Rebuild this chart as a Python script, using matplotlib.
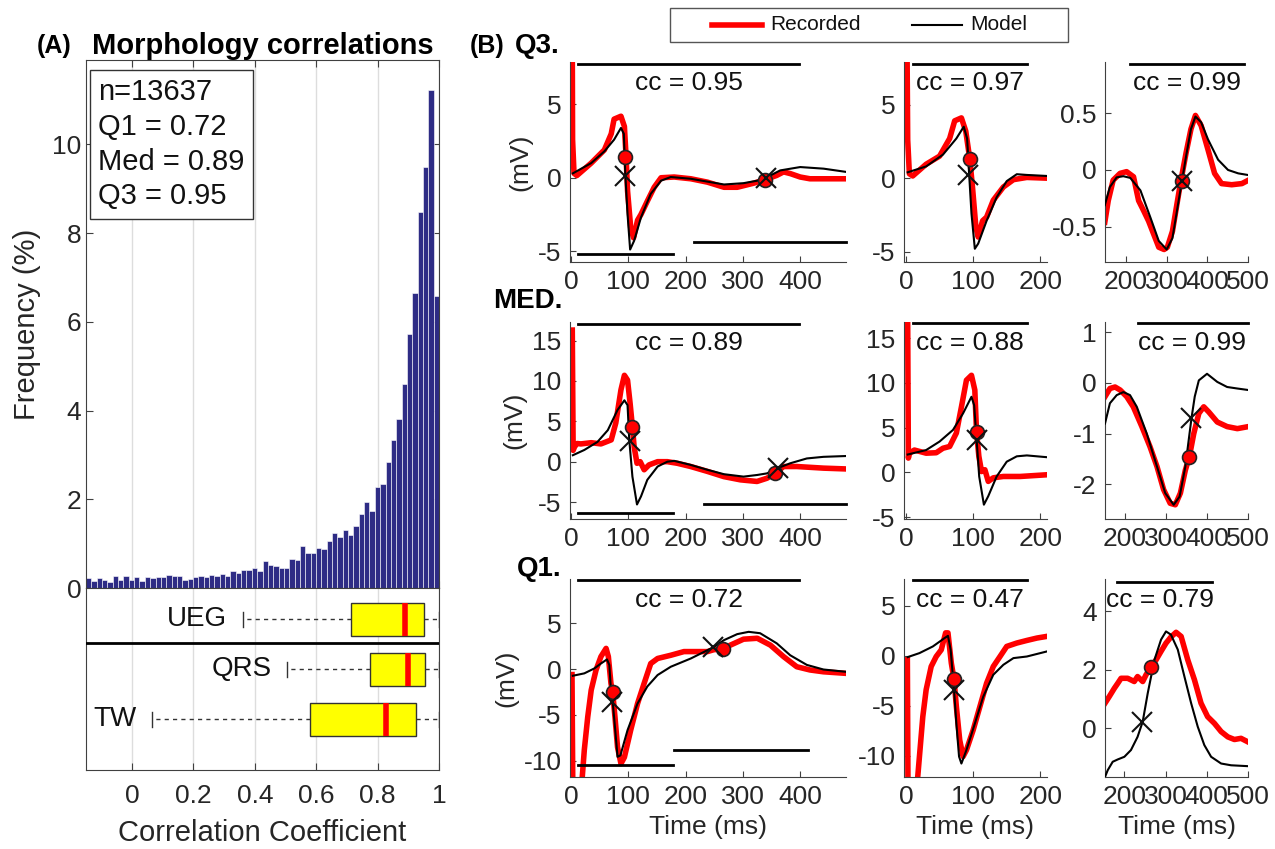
import numpy as np
import matplotlib.pyplot as plt
from matplotlib.lines import Line2D
from matplotlib.patches import Rectangle

plt.rcParams['font.family'] = ['Liberation Sans', 'DejaVu Sans']
plt.rcParams['axes.unicode_minus'] = False

W, H = 1275, 849

# ---------------- (A) histogram of correlation coefficients (% per bin)
hist_freq = [0.22, 0.15, 0.23, 0.17, 0.13, 0.28, 0.17, 0.26, 0.17, 0.24,
             0.15, 0.24, 0.23, 0.24, 0.24, 0.29, 0.26, 0.26, 0.18, 0.20,
             0.24, 0.28, 0.25, 0.30, 0.27, 0.32, 0.28, 0.38, 0.33, 0.40,
             0.40, 0.45, 0.38, 0.60, 0.52, 0.50, 0.45, 0.45, 0.65, 0.62,
             0.95, 0.80, 0.80, 0.90, 0.88, 1.05, 1.25, 1.15, 1.30, 1.20,
             1.40, 1.66, 1.94, 1.74, 2.28, 2.34, 2.84, 3.34, 3.82, 4.59,
             5.73, 6.64, 8.47, 9.48, 11.22, 6.58]
hist_range = (-0.15, 1.0)
stats_text = "n=13637\nQ1 = 0.72\nMed = 0.89\nQ3 = 0.95"

box_labels = ['UEG', 'QRS', 'TW']
box_whislo = [0.36, 0.506, 0.066]
box_q1 = [0.714, 0.774, 0.581]
box_med = [0.89, 0.90, 0.827]
box_q3 = [0.951, 0.954, 0.924]
box_whishi = [1.0, 1.0, 1.0]

# ---------------- (B) example traces: (time ms, mV)
q3_ueg_rec = ([2, 2.5, 5, 10, 35, 58, 70, 75, 87, 93, 96, 98.5, 104, 109, 116, 122, 133, 145, 157, 180, 209, 238, 267, 290, 319, 338, 359, 371, 383, 400, 417, 440, 480],
              [9, 2.6, 0.3, 0.15, 1.0, 1.9, 3.0, 4.0, 4.2, 3.5, 1.4, -0.9, -3.4, -4.1, -2.9, -2.5, -1.6, -0.65, 0, 0.05, -0.07, -0.3, -0.65, -0.65, -0.37, -0.14, 0.16, 0.4, 0.28, 0.05, -0.07, -0.07, -0.07])
q3_ueg_mod = ([3, 35, 58, 75, 87, 92, 94.5, 98.5, 103, 110, 122, 139, 157, 174, 209, 267, 301, 325, 340, 365, 400, 441, 480],
              [0.3, 1.0, 1.8, 2.6, 3.4, 3.0, 0.3, -2.5, -4.9, -4.3, -2.7, -1.1, -0.2, 0.05, -0.07, -0.46, -0.37, -0.2, 0, 0.5, 0.73, 0.62, 0.4])
q3_qrs_rec = ([1.5, 2.5, 5, 10, 30, 50, 65, 72.5, 82.5, 89, 95, 99, 104, 107.5, 114, 120, 130, 145, 160, 180, 210],
              [9, 2.6, 0.3, 0.15, 0.95, 1.5, 2.7, 3.9, 4.1, 3.2, 1.3, -0.6, -3.3, -4.0, -2.9, -2.65, -1.5, -0.6, -0.1, 0.05, 0])
q3_qrs_mod = ([2.5, 30, 55, 75, 86, 91, 94, 97.5, 102.5, 107.5, 120, 135, 150, 165, 180, 210],
              [0.4, 0.8, 1.6, 2.7, 3.5, 2.7, 0.3, -2.4, -4.8, -4.45, -2.9, -1.3, -0.2, 0.27, 0.22, 0.15])
q3_tw_rec = ([148.5, 157, 169, 186, 202, 219, 231.5, 244, 256, 269, 281, 294, 302, 314.5, 327, 335, 348, 360, 371, 385, 401.7, 418, 435, 460, 485, 501],
             [-0.46, -0.27, -0.09, -0.03, -0.015, -0.06, -0.27, -0.36, -0.45, -0.57, -0.68, -0.7, -0.68, -0.54, -0.27, -0.10, 0.15, 0.36, 0.48, 0.39, 0.18, -0.03, -0.12, -0.13, -0.12, -0.09])
q3_tw_mod = ([148.5, 161, 177.6, 194, 211, 236, 260.6, 281, 300.4, 314.5, 327, 337.8, 348, 360, 371, 385, 401.7, 426.6, 451, 476, 501],
             [-0.31, -0.15, -0.065, -0.055, -0.07, -0.18, -0.42, -0.625, -0.70, -0.6, -0.33, -0.1, 0.12, 0.36, 0.47, 0.42, 0.27, 0.09, 0, -0.03, -0.045])

med_ueg_rec = ([2, 3.5, 6, 10.4, 17, 35, 52, 70, 78, 87, 93, 98.5, 103, 107, 110, 115, 120.6, 127.5, 136, 151, 168, 185.5, 208.7, 237.7, 266.7, 295.6, 324.6, 342, 356.5, 371, 394, 440.6, 480],
               [16.3, 1.4, 1.85, 2.25, 2.2, 2.35, 2.2, 2.7, 4.8, 8.9, 10.7, 10.1, 7.2, 4.3, 1.85, -0.2, 0, -1.0, -0.4, 0, 0, -0.2, -0.6, -1.2, -1.85, -2.25, -2.45, -2.05, -1.45, -0.6, -0.6, -0.8, -0.9])
med_ueg_mod = ([3, 23, 46, 64, 81, 93, 98.5, 101.5, 107, 115, 122, 133, 151, 168, 180, 208.7, 237.7, 266.7, 301, 324.6, 342, 360.6, 382.6, 411.6, 440.6, 480],
               [0.8, 1.45, 2.45, 3.9, 6.4, 7.6, 7.0, 2.7, -1.85, -5.3, -4.3, -2.25, -0.6, 0, 0.1, -0.4, -1.0, -1.55, -1.85, -1.65, -1.45, -0.8, -0.2, 0.4, 0.6, 0.7])
med_qrs_rec = ([2.5, 3.5, 5, 12.5, 30, 45, 55, 65, 75, 82.5, 90, 97.5, 102.5, 105, 108.5, 112.5, 117.5, 122.5, 130, 145, 170, 210],
               [16.6, 1.6, 2.15, 2.5, 2.15, 2.2, 2.7, 2.9, 4.4, 7.3, 10.3, 10.85, 9.2, 4.55, 1.8, 0.1, 0.3, -1.0, -0.6, -0.45, -0.45, -0.26])
med_qrs_mod = ([2.5, 30, 50, 70, 85, 97.5, 101.5, 105, 109, 116, 122.5, 135, 150, 165, 180, 210],
               [2.0, 2.5, 3.45, 4.75, 6.6, 8.45, 7.5, 3.8, -0.45, -3.6, -2.65, -0.45, 1.2, 1.8, 1.9, 1.7])
med_tw_rec = ([151, 163, 175.5, 188, 204, 220, 241, 261, 278, 294, 310, 322.6, 335, 347, 357, 367.6, 380, 392, 404, 425, 449, 474, 501],
              [-0.27, -0.11, -0.08, -0.14, -0.27, -0.47, -0.86, -1.26, -1.65, -2.1, -2.37, -2.4, -2.17, -1.72, -1.45, -1.0, -0.6, -0.47, -0.57, -0.77, -0.86, -0.9, -0.86])
med_tw_mod = ([151, 163, 179.6, 196, 212, 228.6, 253, 278, 298, 318.6, 333, 347, 362, 370, 380, 400, 425, 449, 474, 501],
              [-0.8, -0.4, -0.24, -0.18, -0.24, -0.47, -1.0, -1.65, -2.17, -2.4, -2.24, -1.65, -0.7, -0.27, 0.05, 0.18, 0.02, -0.08, -0.11, -0.14])

q1_ueg_rec = ([1.5, 3, 10, 18.5, 23, 29, 35, 43.5, 52, 61, 65, 69.5, 72.5, 76.5, 81, 87, 93, 104, 116, 127.5, 139, 151, 174, 197, 220, 238, 249, 265, 278, 301, 325, 348, 371, 394, 417, 440.6, 480],
              [-0.6, -14, -18, -12.5, -8.8, -5.2, -2.3, -0.1, 1.35, 2.25, 1.35, -1.55, -2.5, -5.2, -8.5, -10.3, -9.6, -6.65, -3.75, -1.55, 0.6, 1.15, 1.5, 1.9, 1.9, 1.9, 2.1, 2.2, 2.6, 3.25, 3.35, 2.6, 1.35, 0.25, -0.1, -0.3, -0.47])
q1_ueg_mod = ([3, 23, 40.6, 52, 62.6, 66.7, 69.5, 72.5, 76.5, 81, 86, 98.5, 116, 133, 151, 174, 209, 238, 249, 267, 290, 310, 330, 359, 382.6, 411.6, 440.6, 480],
              [-0.73, -0.47, 0.07, 0.6, 1.05, 0.44, -2.3, -3.55, -6.3, -9.55, -9.4, -6.65, -3.75, -1.9, -0.65, 0.25, 1.15, 2.05, 2.4, 3.15, 3.8, 4.05, 3.9, 2.8, 1.5, 0.45, -0.05, -0.3])
q1_qrs_rec = ([2, 3, 10, 17, 20, 25, 30, 37.5, 45, 52.5, 59, 62.5, 67.5, 71.5, 75, 80, 85, 90, 100, 110, 120, 130, 140, 150, 165, 180, 195, 210],
              [-0.4, -14, -18, -12.5, -10.1, -6.1, -3.4, -1.07, -0.07, 0.6, 2.3, 2.3, -0.74, -2.35, -5.1, -8.45, -10.1, -9.45, -7.45, -5.1, -2.75, -1.07, -0.07, 0.94, 1.28, 1.54, 1.78, 1.95])
q1_qrs_mod = ([2.5, 20, 40, 57.5, 62.5, 66.5, 71.5, 75, 79, 82.5, 90, 102.5, 115, 130, 145, 160, 180, 210],
              [-0.13, 0.27, 0.94, 1.78, 2.0, 0.6, -3.4, -6.8, -10.1, -10.8, -9.45, -6.8, -4.1, -1.9, -0.9, -0.23, -0.07, 0.44])
q1_tw_rec = ([153, 163.5, 175.7, 184, 192, 208, 224, 232, 244.5, 252.6, 264.8, 277, 289, 301, 313, 325.5, 337.7, 353.8, 370, 386, 402, 418.6, 434.8, 451, 467, 483, 499.6],
             [0.86, 1.09, 1.37, 1.54, 1.71, 1.71, 1.6, 1.77, 1.6, 1.83, 2.09, 2.34, 2.63, 2.91, 3.12, 3.28, 3.14, 2.34, 1.66, 0.86, 0.4, 0.17, -0.11, -0.29, -0.38, -0.34, -0.46])
q1_tw_mod = ([153, 159.5, 171.7, 184, 200, 216, 232, 244.5, 256.7, 273, 289, 301, 313, 329.6, 345.7, 362, 378, 394, 410.5, 434.8, 459, 499.6],
             [-1.66, -1.43, -1.14, -1.06, -0.97, -0.74, -0.29, 0.23, 1.2, 2.34, 3.03, 3.31, 3.2, 2.69, 1.77, 0.86, 0.06, -0.57, -0.97, -1.2, -1.26, -1.29])

# fiducial points: circles on recorded, crosses on model
q3_ueg_pts = ([94.5, 338], [1.4, -0.14], [94.5, 340], [0.1, 0.0])
q3_qrs_pts = ([95], [1.3], [92.5], [0.2])
q3_tw_pts = ([338], [-0.1], [338], [-0.1])
med_ueg_pts = ([107, 356.5], [4.3, -1.45], [102.6, 360.6], [2.5, -0.8])
med_qrs_pts = ([105], [4.55], [106], [3.6])
med_tw_pts = ([357], [-1.45], [362], [-0.7])
q1_ueg_pts = ([72.5, 265], [-2.5, 2.2], [70.7, 248], [-3.55, 2.44])
q1_qrs_pts = ([71.5], [-2.35], [71.5], [-3.4])
q1_tw_pts = ([264.8], [2.09], [243], [0.23])

# window bars (x start, x end, level)
q3_ueg_win = [(12, 398, 7.75), (12, 178, -5.2), (214, 480, -4.37)]
q3_qrs_win = [(11, 180, 7.75)]
q3_tw_win = [(211, 489, 0.93)]
med_ueg_win = [(12, 398, 17.1), (12, 178, -6.3), (232, 480, -5.25)]
med_qrs_win = [(11, 180, 16.7)]
med_tw_win = [(231, 500, 1.19)]
q1_ueg_win = [(12, 398, 9.7), (12, 178, -10.47), (180, 413, -8.76)]
q1_qrs_win = [(11, 180, 7.6)]
q1_tw_win = [(182, 413, 5.0)]

cc_values = [['0.95', '0.97', '0.99'], ['0.89', '0.88', '0.99'], ['0.72', '0.47', '0.79']]
row_names = ['Q3.', 'MED.', 'Q1.']

ylims = [[(-5.75, 7.9), (-5.7, 7.9), (-0.81, 0.95)],
         [(-7.1, 17.3), (-5.2, 16.8), (-2.68, 1.2)],
         [(-11.75, 9.8), (-12.15, 7.7), (-1.66, 5.1)]]
xlims = [[(-2, 480), (-3, 210), (149, 500)],
         [(-2, 480), (-3, 210), (151, 500)],
         [(-2, 480), (-3, 210), (153, 500)]]
yticks = [[[-5, 0, 5], [-5, 0, 5], [-0.5, 0, 0.5]],
          [[-5, 0, 5, 10, 15], [-5, 0, 5, 10, 15], [-2, -1, 0, 1]],
          [[-10, -5, 0, 5], [-10, -5, 0, 5], [0, 2, 4]]]
xticks = [[0, 100, 200, 300, 400], [0, 100, 200], [200, 300, 400, 500]]
cc_xfrac = [[0.43, 0.46, 0.57], [0.43, 0.46, 0.61], [0.43, 0.46, 0.385]]

traces = [[(q3_ueg_rec, q3_ueg_mod, q3_ueg_pts, q3_ueg_win),
           (q3_qrs_rec, q3_qrs_mod, q3_qrs_pts, q3_qrs_win),
           (q3_tw_rec, q3_tw_mod, q3_tw_pts, q3_tw_win)],
          [(med_ueg_rec, med_ueg_mod, med_ueg_pts, med_ueg_win),
           (med_qrs_rec, med_qrs_mod, med_qrs_pts, med_qrs_win),
           (med_tw_rec, med_tw_mod, med_tw_pts, med_tw_win)],
          [(q1_ueg_rec, q1_ueg_mod, q1_ueg_pts, q1_ueg_win),
           (q1_qrs_rec, q1_qrs_mod, q1_qrs_pts, q1_qrs_win),
           (q1_tw_rec, q1_tw_mod, q1_tw_pts, q1_tw_win)]]

AX_COL = '#404040'
FS = 19


def rect(l, t, r, b):
    return [l / W, 1 - b / H, (r - l) / W, (b - t) / H]


fig = plt.figure(figsize=(W / 100, H / 100), dpi=100)

# ---- (A) histogram
axh = fig.add_axes(rect(86, 60, 439, 588))
edges = np.linspace(hist_range[0], hist_range[1], len(hist_freq) + 1)
axh.bar(edges[:-1], hist_freq, width=np.diff(edges), align='edge',
        color='#2e2c85', edgecolor='white', linewidth=0.4, zorder=2)
axh.set_xlim(hist_range)
axh.set_ylim(0, 11.9)
axh.set_xticks([0, 0.2, 0.4, 0.6, 0.8, 1.0])
axh.set_xticklabels([])
axh.set_yticks([0, 2, 4, 6, 8, 10])
axh.grid(axis='x', color='#dddddd', linewidth=1, zorder=0)
axh.tick_params(direction='in', top=True, right=True, labelsize=FS,
                colors=AX_COL, labelcolor='#262626', length=5)
for s in axh.spines.values():
    s.set_color(AX_COL)
axh.set_ylabel('Frequency (%)', fontsize=21, color='#262626', labelpad=8)
axh.text(0.035, 0.965, stats_text, transform=axh.transAxes, va='top', ha='left',
         fontsize=21, linespacing=1.3, color='#111111', zorder=5,
         bbox=dict(boxstyle='square,pad=0.3', facecolor='white', edgecolor='#333333', linewidth=1))

# ---- (A) boxplots
axb = fig.add_axes(rect(86, 588, 439, 770))
stats = []
for i in range(len(box_labels)):
    stats.append(dict(med=box_med[i], q1=box_q1[i], q3=box_q3[i],
                      whislo=box_whislo[i], whishi=box_whishi[i], fliers=[]))
positions = np.arange(1, len(box_labels) + 1)
axb.bxp(stats, positions=positions, vert=False, widths=0.66, patch_artist=True,
        boxprops=dict(facecolor='#ffff00', edgecolor='#333333', linewidth=1),
        medianprops=dict(color='#ff0000', linewidth=4, solid_capstyle='butt'),
        whiskerprops=dict(color='#333333', linestyle=(0, (3, 3)), linewidth=1),
        capprops=dict(color='#333333', linewidth=1), capwidths=0.3, zorder=3)
for i, lab in enumerate(box_labels):
    axb.text(box_whislo[i] - 0.05, positions[i], lab, ha='right', va='center',
             fontsize=20, color='#111111')
axb.axhline(1.48, color='black', linewidth=2, zorder=4)
axb.set_ylim(4.02, 0.38)
axb.set_xlim(hist_range)
axb.set_yticks([])
axb.set_xticks([0, 0.2, 0.4, 0.6, 0.8, 1.0])
axb.set_xticklabels(['0', '0.2', '0.4', '0.6', '0.8', '1'])
axb.grid(axis='x', color='#dddddd', linewidth=1, zorder=0)
axb.set_axisbelow(True)
axb.tick_params(direction='in', top=False, labelsize=FS, colors=AX_COL,
                labelcolor='#262626', length=5, pad=10)
for s in axb.spines.values():
    s.set_color(AX_COL)
axb.set_xlabel('Correlation Coefficient', fontsize=21, color='#262626', labelpad=8)

fig.text(37 / W, 1 - 46 / H, '(A)', fontsize=18, fontweight='bold', va='center', ha='left')
fig.text(92 / W, 1 - 46 / H, 'Morphology correlations', fontsize=21, fontweight='bold',
         va='center', ha='left')

# ---- (B) panels
col_x = [(570, 846), (904, 1047), (1105, 1248)]
row_y = [(62, 262), (322, 519), (579, 777)]
row_lab_xy = [(515, 46), (493, 301), (517, 569)]

for r in range(3):
    for c in range(3):
        ax = fig.add_axes(rect(col_x[c][0], row_y[r][0], col_x[c][1], row_y[r][1]))
        rec, mod, pts, win = traces[r][c]
        ax.plot(rec[0], rec[1], color='#ff0000', linewidth=4, solid_joinstyle='round', zorder=2)
        ax.plot(mod[0], mod[1], color='black', linewidth=1.5, zorder=3)
        ax.plot(pts[0], pts[1], 'o', markersize=10, markerfacecolor='#ff0000',
                markeredgecolor='#222222', markeredgewidth=1.2, zorder=4)
        ax.plot(pts[2], pts[3], 'x', markersize=14, color='#111111', markeredgewidth=1.5, zorder=5)
        for x0, x1, lev in win:
            ax.plot([x0, x1], [lev, lev], color='black', linewidth=2, clip_on=False, zorder=3)
        ax.set_xlim(xlims[r][c])
        ax.set_ylim(ylims[r][c])
        ax.set_xticks(xticks[c])
        ax.set_yticks(yticks[r][c])
        ax.set_yticklabels(['{:g}'.format(v) for v in yticks[r][c]])
        ax.tick_params(direction='in', labelsize=FS, colors=AX_COL,
                       labelcolor='#262626', length=4, pad=6)
        ax.spines['top'].set_visible(False)
        ax.spines['right'].set_visible(False)
        ax.spines['left'].set_color(AX_COL)
        ax.spines['bottom'].set_color(AX_COL)
        ax.text(cc_xfrac[r][c], 0.895, 'cc = ' + cc_values[r][c], transform=ax.transAxes,
                ha='center', va='center', fontsize=FS, color='#111111')
        if c == 0:
            ax.set_ylabel('(mV)', fontsize=FS, color='#262626', labelpad=4)
        if r == 2:
            ax.set_xlabel('Time (ms)', fontsize=FS, color='#262626', labelpad=4)
    fig.text(row_lab_xy[r][0] / W, 1 - row_lab_xy[r][1] / H, row_names[r],
             fontsize=20, fontweight='bold', va='center', ha='left')

fig.text(470 / W, 1 - 46 / H, '(B)', fontsize=18, fontweight='bold', va='center', ha='left')

# legend drawn by hand in figure pixels
fig.add_artist(Rectangle((670 / W, 1 - 42 / H), 398 / W, 34 / H, transform=fig.transFigure,
                         facecolor='white', edgecolor='#555555', linewidth=1))
fig.add_artist(Line2D([712 / W, 762 / W], [1 - 25 / H, 1 - 25 / H], transform=fig.transFigure,
                      color='#ff0000', linewidth=4))
fig.add_artist(Line2D([912 / W, 962 / W], [1 - 25 / H, 1 - 25 / H], transform=fig.transFigure,
                      color='black', linewidth=1.5))
fig.text(770 / W, 1 - 25 / H, 'Recorded', fontsize=15, va='center', ha='left', color='#111111')
fig.text(970 / W, 1 - 25 / H, 'Model', fontsize=15, va='center', ha='left', color='#111111')

fig.savefig('out.png', dpi=100)
